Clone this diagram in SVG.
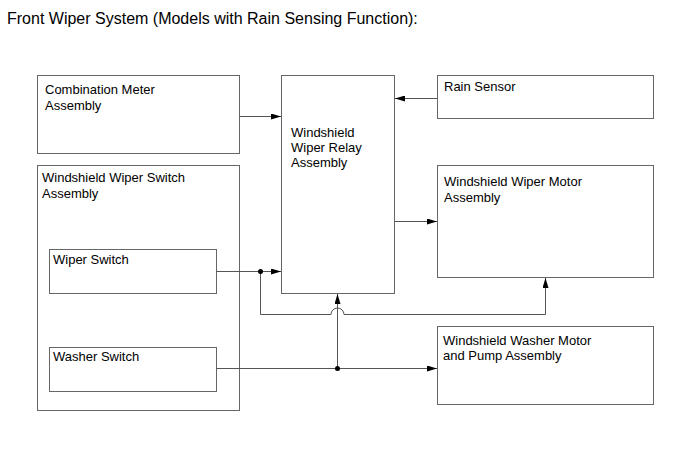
<svg xmlns="http://www.w3.org/2000/svg" width="690" height="465" viewBox="0 0 690 465">
<defs>
<style>
.box{fill:#fff;stroke:#666;stroke-width:1}
.t{font-family:"Liberation Sans",Arial,sans-serif;font-size:13px;fill:#000}
.ttl{font-family:"Liberation Sans",Arial,sans-serif;font-size:16px;fill:#000}
.ln{fill:none;stroke:#555;stroke-width:1}
.dot{fill:#000}
</style>
<marker id="ah" viewBox="0 0 10 6" refX="10" refY="3" markerWidth="10" markerHeight="6" markerUnits="userSpaceOnUse" orient="auto">
<path d="M0,0 L10,3 L0,6 Z" fill="#000"/>
</marker>
</defs>
<rect width="690" height="465" fill="#fff"/>
<text class="ttl" x="7" y="24">Front Wiper System (Models with Rain Sensing Function):</text>

<g id="combination-meter">
<rect class="box" x="37.5" y="75.5" width="202" height="78"/>
<text class="t" x="45" y="94">Combination Meter</text>
<text class="t" x="45" y="110">Assembly</text>
</g>
<g id="relay">
<rect class="box" x="281.5" y="75.5" width="113" height="218"/>
<text class="t" x="291" y="137">Windshield</text>
<text class="t" x="291" y="152">Wiper Relay</text>
<text class="t" x="291" y="167">Assembly</text>
</g>
<g id="rain-sensor">
<rect class="box" x="437.5" y="75.5" width="216" height="43"/>
<text class="t" x="444" y="91">Rain Sensor</text>
</g>
<g id="wiper-motor">
<rect class="box" x="437.5" y="165.5" width="216" height="112"/>
<text class="t" x="444" y="186">Windshield Wiper Motor</text>
<text class="t" x="444" y="202">Assembly</text>
</g>
<g id="washer-motor">
<rect class="box" x="437.5" y="326.5" width="216" height="78"/>
<text class="t" x="443" y="345">Windshield Washer Motor</text>
<text class="t" x="443" y="360">and Pump Assembly</text>
</g>
<g id="switch-assembly">
<rect class="box" x="37.5" y="165.5" width="202" height="245"/>
<text class="t" x="42" y="182">Windshield Wiper Switch</text>
<text class="t" x="42" y="198">Assembly</text>
</g>
<g id="wiper-switch">
<rect class="box" x="49.5" y="249.5" width="167" height="44"/>
<text class="t" x="53" y="264">Wiper Switch</text>
</g>
<g id="washer-switch">
<rect class="box" x="49.5" y="347.5" width="167" height="44"/>
<text class="t" x="53" y="361">Washer Switch</text>
</g>

<g id="connectors">
<line class="ln" x1="239.5" y1="116.5" x2="281" y2="116.5" marker-end="url(#ah)"/>
<line class="ln" x1="437" y1="98.5" x2="395" y2="98.5" marker-end="url(#ah)"/>
<line class="ln" x1="394.5" y1="221.5" x2="437" y2="221.5" marker-end="url(#ah)"/>
<line class="ln" x1="216.5" y1="271.5" x2="260.5" y2="271.5"/>
<line class="ln" x1="260.5" y1="271.5" x2="281" y2="271.5" marker-end="url(#ah)"/>
<path class="ln" d="M260.5,271.5 V314.5 H331 A6.5,6.5 0 0 1 344,314.5 H545.5 V278" marker-end="url(#ah)"/>
<line class="ln" x1="216.5" y1="368.5" x2="437" y2="368.5" marker-end="url(#ah)"/>
<line class="ln" x1="337.5" y1="368.5" x2="337.5" y2="294" marker-end="url(#ah)"/>
<circle class="dot" cx="260.5" cy="271.5" r="2.5"/>
<circle class="dot" cx="337.5" cy="368.5" r="2.5"/>
</g>
</svg>
